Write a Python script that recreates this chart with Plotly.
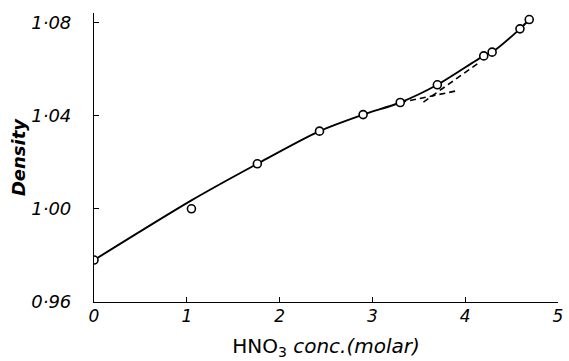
import plotly.graph_objects as go

# measured points
conc = [0.0, 1.05, 1.76, 2.43, 2.90, 3.30, 3.70, 4.20, 4.29, 4.59, 4.69]
density = [0.978, 1.000, 1.0193, 1.0333, 1.0404, 1.0456, 1.0532, 1.0656, 1.0672, 1.0772, 1.0812]

# smooth fitted curve
curve_x = [0.0, 1.05, 1.76, 2.43, 2.90, 3.30, 3.70, 4.20, 4.29, 4.59, 4.69]
curve_y = [0.978, 1.0036, 1.0193, 1.0333, 1.0404, 1.0456, 1.0532, 1.0656, 1.0672, 1.0772, 1.0812]

# dashed extrapolations
dash1_x = [3.55, 4.16]
dash1_y = [1.0458, 1.0630]
dash2_x = [3.30, 3.93]
dash2_y = [1.0456, 1.0508]

x_ticks = [0, 1, 2, 3, 4, 5]
x_ticktext = ["0", "1", "2", "3", "4", "5"]
y_ticks = [0.96, 1.00, 1.04, 1.08]
y_ticktext = ["0·96", "1·00", "1·04", "1·08"]

fig = go.Figure()
fig.add_trace(go.Scatter(x=curve_x, y=curve_y, mode="lines",
                         line=dict(color="black", width=1.9, shape="spline", smoothing=0.8),
                         hoverinfo="skip"))
fig.add_trace(go.Scatter(x=dash1_x, y=dash1_y, mode="lines",
                         line=dict(color="black", width=1.6, dash="6px,4px")))
fig.add_trace(go.Scatter(x=dash2_x, y=dash2_y, mode="lines",
                         line=dict(color="black", width=1.6, dash="6px,4px")))
fig.add_trace(go.Scatter(x=conc, y=density, mode="markers",
                         marker=dict(size=8, color="white", line=dict(color="black", width=1.6))))

font_fam = "DejaVu Sans"
fig.update_layout(
    width=569, height=361,
    margin=dict(l=94, r=6, t=13, b=59),
    paper_bgcolor="white", plot_bgcolor="white",
    showlegend=False,
    font=dict(family=font_fam, color="black"),
    xaxis=dict(range=[0, 5], tickvals=x_ticks, ticktext=x_ticktext,
               ticks="inside", ticklen=5, tickwidth=1.2, tickcolor="black",
               showline=True, linecolor="black", linewidth=1.2, showgrid=False, zeroline=False,
               tickfont=dict(size=17, style="italic", family=font_fam),
               ticklabelstandoff=-2, ticklabeloverflow="allow",
               title=dict(text="HNO<sub>3</sub> <i>conc.(molar)</i>", standoff=14,
                          font=dict(size=20, family=font_fam))),
    yaxis=dict(range=[0.96, 1.084], tickvals=y_ticks, ticktext=y_ticktext,
               ticks="inside", ticklen=5, tickwidth=1.2, tickcolor="black",
               showline=True, linecolor="black", linewidth=1.2, showgrid=False, zeroline=False,
               tickfont=dict(size=18, style="italic", family=font_fam),
               ticklabelstandoff=18,
               title=dict(text="Density", standoff=0,
                          font=dict(size=18, style="italic", weight="bold", family=font_fam))),
)

fig.write_html("out.html", config={"displayModeBar": False},
               post_script="document.body.style.margin='0';")
